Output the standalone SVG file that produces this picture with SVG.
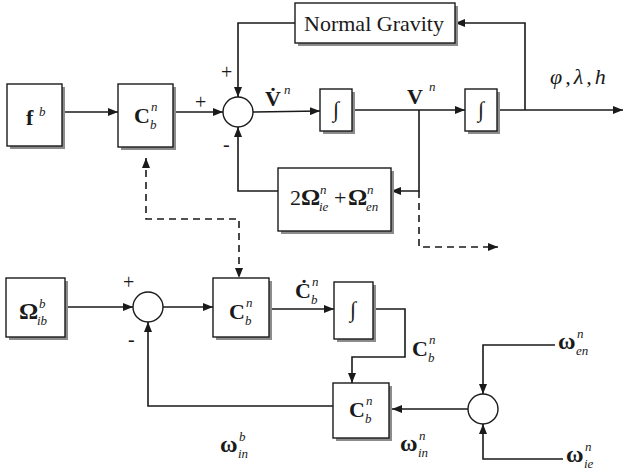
<svg xmlns="http://www.w3.org/2000/svg" width="624" height="473" viewBox="0 0 624 473">
<style>
.box{fill:#fff;stroke:#1a1a1a;stroke-width:1.4}
.sh{fill:#8c8c8c}
.sum{fill:#fff;stroke:#1a1a1a;stroke-width:1.4}
.ln{fill:none;stroke:#1a1a1a;stroke-width:1.6}
.arr{marker-end:url(#ah)}
.dash{stroke-dasharray:7 5}
text{font-family:"Liberation Serif","Times New Roman",serif;fill:#1a1a1a}
.b{font-weight:bold}
.m{font-size:22px}
.g{font-size:24px;font-weight:bold}
.s{font-size:13px;font-style:italic}
.sign{font-size:20px}
.int{font-size:22px;text-anchor:middle}
</style>
<defs>
<marker id="ah" viewBox="0 0 10 8" refX="10" refY="4" markerWidth="10" markerHeight="8" markerUnits="userSpaceOnUse" orient="auto-start-reverse"><path d="M0,0L10,4L0,8z" fill="#1a1a1a"/></marker>
</defs>

<g id="connectors">
<path class="ln arr" d="M62,112H118"/>
<path class="ln arr" d="M173,112H223"/>
<path class="ln arr" d="M253,112L320,111"/>
<path class="ln arr" d="M352,110H465"/>
<path class="ln arr" d="M497,110H623"/>
<path class="ln arr" d="M525,110V23H455"/>
<path class="ln arr" d="M295,23H238V97"/>
<path class="ln arr" d="M419,110V191H391"/>
<path class="ln arr" d="M278,191H238V127"/>
<path class="ln dash arr" d="M419,191V247H498"/>
<path class="ln dash arr" style="marker-start:url(#ah)" d="M146,158V219H239V278"/>
<path class="ln arr" d="M65,307H133"/>
<path class="ln arr" d="M163,307H213"/>
<path class="ln arr" d="M272,309H334"/>
<path class="ln arr" d="M373,309H405V357H352V383"/>
<path class="ln arr" d="M468,409H392"/>
<path class="ln arr" d="M333,406H148V322"/>
<path class="ln arr" d="M555,345H483V394"/>
<path class="ln arr" d="M563,459H483V424"/>
</g>

<g id="fb">
<rect class="sh" x="10" y="87" width="55" height="62"/>
<rect class="box" x="7" y="84" width="55" height="62"/>
<text class="m"><tspan class="b" x="26" y="125">f</tspan><tspan class="s" x="39" y="116">b</tspan></text>
</g>

<g id="Cbn1">
<rect class="sh" x="121" y="87" width="55" height="63"/>
<rect class="box" x="118" y="84" width="55" height="63"/>
<text class="m"><tspan class="b" x="134" y="123">C</tspan><tspan class="s" x="151" y="111">n</tspan><tspan class="s" x="150" y="129">b</tspan></text>
</g>

<g id="gravity">
<rect class="sh" x="298" y="6" width="160" height="40"/>
<rect class="box" x="295" y="3" width="160" height="40"/>
<text x="374" y="31" font-size="22" text-anchor="middle">Normal Gravity</text>
</g>

<g id="sum1">
<circle class="sum" cx="238" cy="112" r="15"/>
</g>

<g id="int1">
<rect class="sh" x="323" y="92" width="32" height="42"/>
<rect class="box" x="320" y="89" width="32" height="42"/>
<text class="int" x="336" y="117">∫</text>
</g>

<g id="int2">
<rect class="sh" x="468" y="92" width="32" height="42"/>
<rect class="box" x="465" y="89" width="32" height="42"/>
<text class="int" x="481" y="117">∫</text>
</g>

<g id="omega">
<rect class="sh" x="281" y="171" width="113" height="63"/>
<rect class="box" x="278" y="168" width="113" height="63"/>
<text class="m"><tspan x="290" y="205">2</tspan><tspan class="g" x="301" y="205">Ω</tspan><tspan class="s" x="320" y="194">n</tspan><tspan class="s" x="319" y="211">ie</tspan><tspan x="334" y="205">+</tspan><tspan class="g" x="348" y="205">Ω</tspan><tspan class="s" x="367" y="194">n</tspan><tspan class="s" x="366" y="211">en</tspan></text>
</g>

<g id="Omib">
<rect class="sh" x="9" y="281" width="59" height="59"/>
<rect class="box" x="6" y="278" width="59" height="59"/>
<text class="m"><tspan class="g" x="19" y="319">Ω</tspan><tspan class="s" x="39" y="308">b</tspan><tspan class="s" x="37" y="325">ib</tspan></text>
</g>

<g id="sum2">
<circle class="sum" cx="148" cy="307" r="15"/>
</g>

<g id="Cbn2">
<rect class="sh" x="216" y="281" width="56" height="59"/>
<rect class="box" x="213" y="278" width="56" height="59"/>
<text class="m"><tspan class="b" x="229" y="319">C</tspan><tspan class="s" x="246" y="307">n</tspan><tspan class="s" x="245" y="325">b</tspan></text>
</g>

<g id="int3">
<rect class="sh" x="337" y="285" width="39" height="57"/>
<rect class="box" x="334" y="282" width="39" height="57"/>
<text class="int" x="353" y="317">∫</text>
</g>

<g id="Cbn3">
<rect class="sh" x="336" y="386" width="56" height="55"/>
<rect class="box" x="333" y="383" width="56" height="55"/>
<text class="m"><tspan class="b" x="349" y="417">C</tspan><tspan class="s" x="366" y="405">n</tspan><tspan class="s" x="365" y="423">b</tspan></text>
</g>

<g id="sum3">
<circle class="sum" cx="483" cy="409" r="15"/>
</g>

<g id="labels">
<text class="sign" x="195" y="109">+</text>
<text class="sign" x="221" y="79">+</text>
<text class="sign" x="223" y="151" font-size="16" font-family="Liberation Sans, Arial, sans-serif">-</text>
<text class="sign" x="123" y="289">+</text>
<text class="sign" x="128" y="346" font-size="16" font-family="Liberation Sans, Arial, sans-serif">-</text>
<text class="m"><tspan class="b" x="265" y="106">V&#x307;</tspan><tspan class="s" x="284" y="94">n</tspan></text>
<text class="m"><tspan class="b" x="407" y="104">V</tspan><tspan class="s" x="429" y="91">n</tspan></text>
<text class="m" font-style="italic" x="550" y="84" letter-spacing="3">φ,λ,h</text>
<text class="m"><tspan class="b" x="295" y="298">C&#x307;</tspan><tspan class="s" x="312" y="286">n</tspan><tspan class="s" x="311" y="304">b</tspan></text>
<text class="m"><tspan class="b" x="412" y="356">C</tspan><tspan class="s" x="429" y="344">n</tspan><tspan class="s" x="428" y="362">b</tspan></text>
<text class="m"><tspan class="g" x="220" y="452">ω</tspan><tspan class="s" x="239" y="441">b</tspan><tspan class="s" x="238" y="458">in</tspan></text>
<text class="m"><tspan class="g" x="400" y="451">ω</tspan><tspan class="s" x="419" y="440">n</tspan><tspan class="s" x="418" y="457">in</tspan></text>
<text class="m"><tspan class="g" x="558" y="349">ω</tspan><tspan class="s" x="577" y="338">n</tspan><tspan class="s" x="576" y="355">en</tspan></text>
<text class="m"><tspan class="g" x="566" y="462">ω</tspan><tspan class="s" x="585" y="451">n</tspan><tspan class="s" x="584" y="468">ie</tspan></text>
</g>
</svg>
